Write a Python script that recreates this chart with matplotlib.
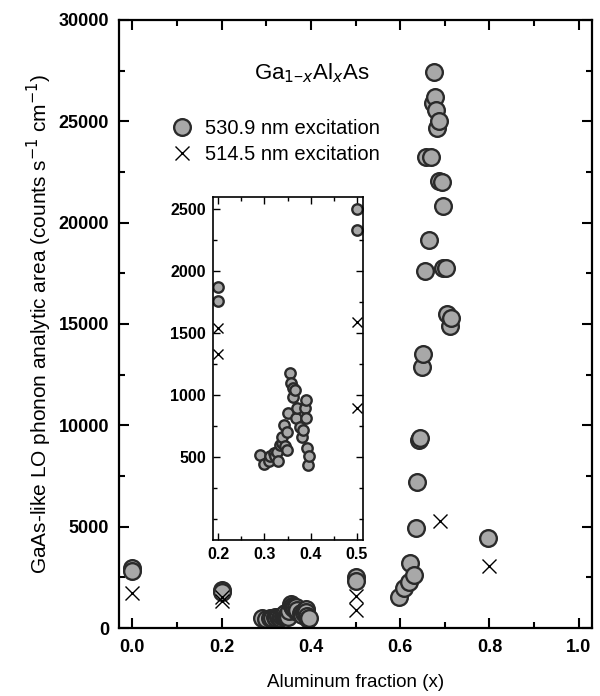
import matplotlib
matplotlib.use("Agg")
import matplotlib.pyplot as plt
from matplotlib.ticker import MultipleLocator
from matplotlib.lines import Line2D

plt.rcParams['font.family'] = ['Liberation Sans', 'DejaVu Sans']

# 530.9 nm excitation (circles)
x_530 = [0.0, 0.0, 0.2, 0.2, 0.5, 0.5,
         0.291, 0.299, 0.309, 0.313, 0.320, 0.323, 0.327, 0.330, 0.334, 0.337,
         0.339, 0.343, 0.345, 0.348, 0.348, 0.352, 0.356, 0.357, 0.361, 0.362,
         0.366, 0.369, 0.370, 0.377, 0.381, 0.384, 0.388, 0.390, 0.390, 0.392,
         0.394, 0.396,
         0.597, 0.608, 0.620, 0.623, 0.631, 0.635, 0.637, 0.643, 0.645, 0.648,
         0.652, 0.655, 0.657, 0.664, 0.670, 0.673, 0.675, 0.678, 0.680, 0.683,
         0.686, 0.688, 0.693, 0.695, 0.697, 0.703, 0.704, 0.711, 0.714, 0.796]
y_530 = [2950, 2800, 1876, 1760, 2502, 2333,
         513, 446, 472, 505, 532, 505, 545, 472, 599, 613,
         660, 760, 586, 706, 559, 860, 1177, 1102, 989, 1056,
         1043, 814, 895, 747, 666, 720, 895, 962, 814, 572,
         438, 505,
         1545, 1958, 2285, 3190, 2615, 4930, 7200, 9280, 9350, 12880,
         13520, 17610, 23240, 19140, 23250, 25900, 27430, 26200, 25560, 24670,
         25000, 22050, 22000, 20820, 17760, 17770, 15490, 14900, 15300, 4440]

# 514.5 nm excitation (crosses)
x_514 = [0.0, 0.2, 0.2, 0.5, 0.5, 0.69, 0.80]
y_514 = [1750, 1540, 1331, 1594, 895, 5280, 3060]

fig = plt.figure(figsize=(6, 6.96), dpi=100)
ax = fig.add_axes([0.198, 0.0977, 0.789, 0.8736])

circ_kw = dict(marker='o', linestyle='none', markerfacecolor='#a8a8a8',
               markeredgecolor='#2a2a2a', markeredgewidth=1.7)
cross_kw = dict(marker='x', linestyle='none', color='black', markeredgewidth=1.0)

ax.plot(x_530, y_530, markersize=12, **circ_kw)
ax.plot(x_514, y_514, markersize=10, **cross_kw)

ax.set_xlim(-0.03, 1.03)
ax.set_ylim(0, 30000)
ax.xaxis.set_major_locator(MultipleLocator(0.2))
ax.xaxis.set_minor_locator(MultipleLocator(0.1))
ax.yaxis.set_major_locator(MultipleLocator(5000))
ax.yaxis.set_minor_locator(MultipleLocator(2500))
ax.set_xticks([0, 0.2, 0.4, 0.6, 0.8, 1.0])
ax.set_xticklabels(['0.0', '0.2', '0.4', '0.6', '0.8', '1.0'])
ax.tick_params(which='both', direction='in', top=True, right=True, width=1.5,
               labelsize=13)
ax.tick_params(axis='x', which='major', pad=8)
ax.tick_params(axis='y', which='major', pad=7)
ax.tick_params(which='major', length=7)
ax.tick_params(which='minor', length=4)
for s in ax.spines.values():
    s.set_linewidth(1.6)
for t in ax.get_xticklabels() + ax.get_yticklabels():
    t.set_fontweight('bold')

ax.set_xlabel('Aluminum fraction (x)', fontsize=13.5, labelpad=13)
ax.set_ylabel('GaAs-like LO phonon analytic area (counts s$^{-1}$ cm$^{-1}$)',
              fontsize=15, labelpad=3)

ax.text(0.408, 0.913, 'Ga$_{1\\mathregular{-}x}$Al$_x$As', transform=ax.transAxes,
        fontsize=16, ha='center', va='center')

handles = [Line2D([], [], markersize=12, **circ_kw),
           Line2D([], [], markersize=10, **cross_kw)]
ax.legend(handles, ['530.9 nm excitation', '514.5 nm excitation'],
          loc='upper left', bbox_to_anchor=(0.092, 0.85), frameon=False,
          fontsize=14.5, handletextpad=0.5, labelspacing=0.35,
          borderaxespad=0, handlelength=1.2)

# inset
axi = fig.add_axes([0.355, 0.224, 0.25, 0.493])
axi.plot(x_530, y_530, markersize=7.5, **circ_kw)
axi.plot(x_514, y_514, markersize=7, **cross_kw)
axi.set_xlim(0.189, 0.513)
axi.set_ylim(-170, 2600)
axi.set_xticks([0.2, 0.3, 0.4, 0.5])
axi.set_xticklabels(['0.2', '0.3', '0.4', '0.5'])
axi.xaxis.set_minor_locator(MultipleLocator(0.05))
axi.set_yticks([500, 1000, 1500, 2000, 2500])
axi.yaxis.set_minor_locator(MultipleLocator(250))
axi.tick_params(which='both', direction='in', top=True, right=True, width=1.0,
                labelsize=11.5, pad=5)
axi.tick_params(which='major', length=5)
axi.tick_params(which='minor', length=3)
for s in axi.spines.values():
    s.set_linewidth(1.2)
for t in axi.get_xticklabels() + axi.get_yticklabels():
    t.set_fontweight('bold')

fig.savefig('out.png', dpi=100)
